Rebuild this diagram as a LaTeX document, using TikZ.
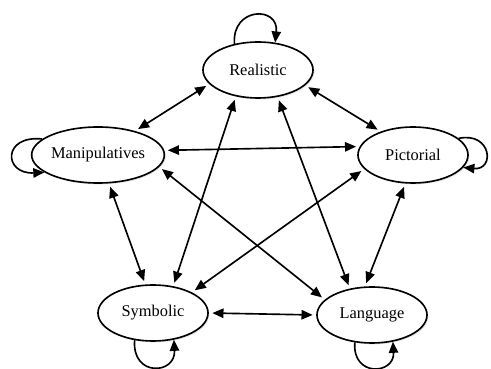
\documentclass[tikz,border=0pt]{standalone}
\usepackage{fontspec}
\setmainfont{Liberation Serif}
\usetikzlibrary{shapes.geometric,arrows.meta,shadows}
\begin{document}
\begin{tikzpicture}[x=0.03cm, y=-0.03cm, line width=1.4pt,
        >={Triangle[length=9.5pt,width=8pt]}]
        \useasboundingbox (0,0) rectangle (491,369);

        \begin{scope}[every node/.style={draw, ellipse, fill=white,
                minimum width=3.3cm, minimum height=1.68cm, inner sep=0pt,
                drop shadow={opacity=0.2, shadow xshift=1.2pt, shadow yshift=-1.2pt},
                font=\fontsize{14}{16}\selectfont}]
            \node (real) at (258,70) {Realistic};
            \node (manip) at (98,155) {Manipulatives};
            \node (pict) at (413,155) {Pictorial};
            \node (symb) at (153,313) {Symbolic};
            \node (lang) at (372,315) {Language};
        \end{scope}

        \begin{scope}[
                every edge/.style={draw, shorten <=3pt, shorten >=3pt}]
            \path [<->] (real.196) edge (manip.33);
            \path [<->] (real.342) edge (pict.144);
            \path [<->] (real.230) edge (symb.53);
            \path [<->] (real.306) edge (lang.130);
            \path [<->] (manip.4) edge (pict.171);
            \path [<->] (manip.349) edge (lang.162);
            \path [<->] (manip.291) edge (symb.105);
            \path [<->] (pict.196) edge (symb.28);
            \path [<->] (pict.255) edge (lang.104);
            \path [<->] (symb.0) edge (lang.180);
        \end{scope}

        % self loops
        \draw [->] (real.132) .. controls +(-3,-37) and +(4,-37) .. (real.58);
        \draw [->] (manip.164) .. controls +(-40,-4) and +(-41,2) .. (manip.198);
        \draw [->] (pict.20) .. controls +(33,-7) and +(32,3) .. (pict.346);
        \draw [->] (symb.236) .. controls +(-3,37) and +(2,35) .. (symb.308);
        \draw [->] (lang.238) .. controls +(-3,35) and +(2,33) .. (lang.308);
    \end{tikzpicture}
\end{document}
